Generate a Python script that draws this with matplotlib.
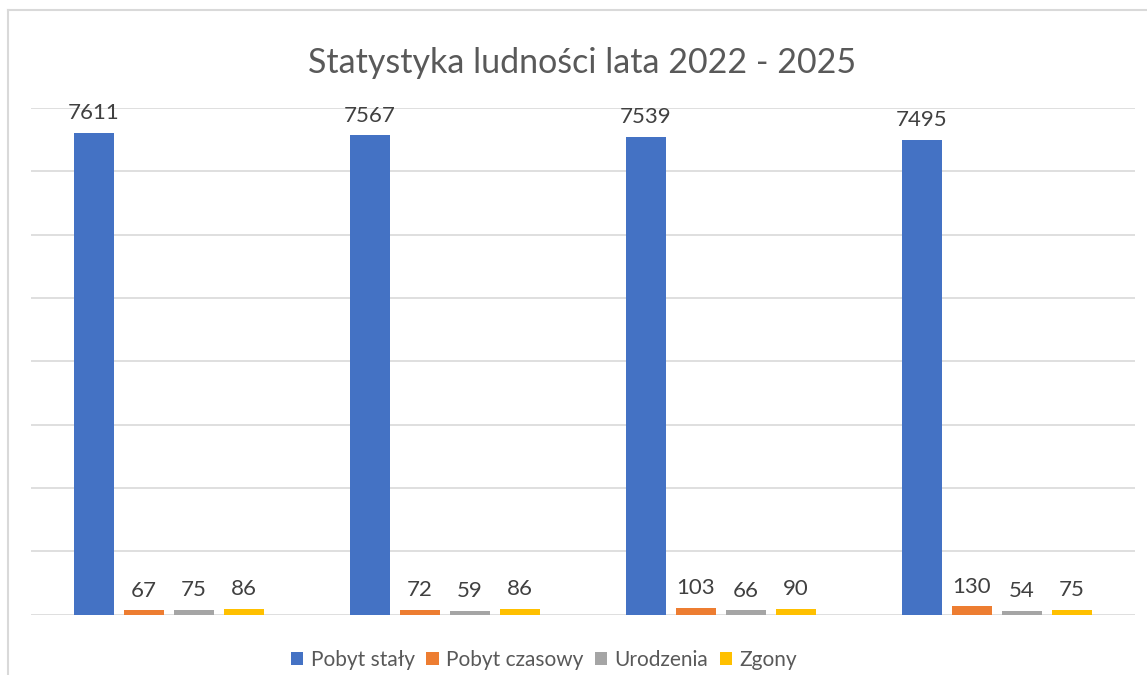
import matplotlib.pyplot as plt
import numpy as np
from matplotlib.lines import Line2D

years = ["2022", "2023", "2024", "2025"]
series_names = ["Pobyt stały", "Pobyt czasowy", "Urodzenia", "Zgony"]
pobyt_staly = [7611, 7567, 7539, 7495]
pobyt_czasowy = [67, 72, 103, 130]
urodzenia = [75, 59, 66, 54]
zgony = [86, 86, 90, 75]
colors = ["#4472C4", "#ED7D31", "#A5A5A5", "#FFC000"]

plt.rcParams['font.family'] = ['Lato', 'DejaVu Sans']

fig = plt.figure(figsize=(11.47, 6.75), dpi=100)
ax = fig.add_axes([31 / 1147, 60.5 / 675, 1104 / 1147, 506.5 / 675])

x = np.arange(len(years))
width = 40 / 276
step = 50 / 276
all_series = [pobyt_staly, pobyt_czasowy, urodzenia, zgony]
for i, vals in enumerate(all_series):
    pos = x + (i - 1.5) * step
    bars = ax.bar(pos, vals, width, color=colors[i], label=series_names[i], zorder=3)
    for b, v in zip(bars, vals):
        ax.annotate(str(v), (b.get_x() + b.get_width() / 2, v), xytext=(0, 7),
                    textcoords="offset points", ha="center", va="bottom",
                    fontsize=16, color="#404040")

ax.set_xlim(-0.5, 3.5)
ax.set_ylim(0, 8000)
ax.set_yticks(range(0, 8001, 1000))
ax.yaxis.grid(True, color="#d9d9d9", linewidth=1.2, zorder=0)
ax.tick_params(length=0, labelleft=False, labelbottom=False)
for s in ax.spines.values():
    s.set_visible(False)

fig.text(582 / 1147, 1 - 63 / 675, "Statystyka ludności lata 2022 - 2025",
         ha="center", va="center", fontsize=24.5, color="#595959")

leg = fig.legend(loc="center", bbox_to_anchor=(544 / 1147, 1 - 660 / 675), ncol=4,
                 frameon=False, fontsize=15, handlelength=0.6, handleheight=0.6,
                 handletextpad=0.35, columnspacing=0.55)
for t in leg.get_texts():
    t.set_color("#595959")

# chart frame (cropped at right/bottom)
fig.add_artist(Line2D([8 / 1147, 1], [1 - 10 / 675, 1 - 10 / 675], color="#d9d9d9", linewidth=1.5))
fig.add_artist(Line2D([8 / 1147, 8 / 1147], [0, 1 - 10 / 675], color="#d9d9d9", linewidth=1.5))

fig.savefig("out.png", dpi=100)
